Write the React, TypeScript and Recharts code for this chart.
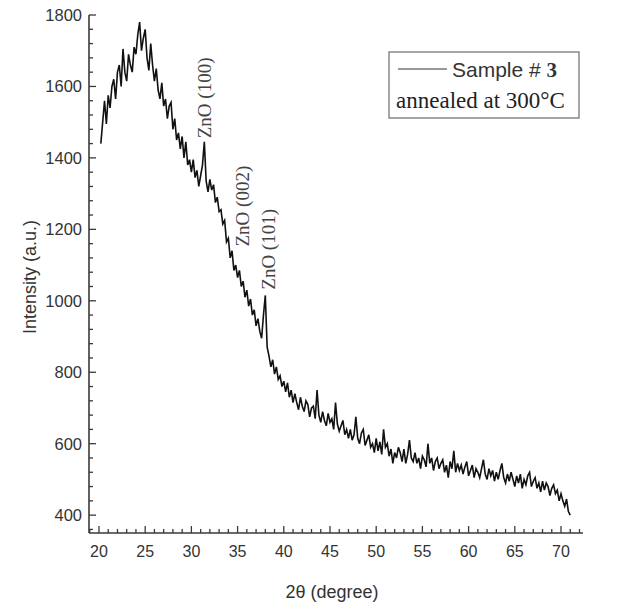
import React from "react";
import { LineChart, Line, XAxis, YAxis, ReferenceDot } from "recharts";

// 2θ sampling (degree)
const twoTheta = [
  20.2, 20.4, 20.6, 20.8, 21.0, 21.2, 21.4, 21.6, 21.8, 22.0,
  22.2, 22.4, 22.6, 22.8, 23.0, 23.2, 23.4, 23.6, 23.8, 24.0,
  24.2, 24.4, 24.6, 24.8, 25.0, 25.2, 25.4, 25.6, 25.8, 26.0,
  26.2, 26.4, 26.6, 26.8, 27.0, 27.2, 27.4, 27.6, 27.8, 28.0,
  28.2, 28.4, 28.6, 28.8, 29.0, 29.2, 29.4, 29.6, 29.8, 30.0,
  30.2, 30.4, 30.6, 30.8, 31.0, 31.2, 31.4, 31.6, 31.8, 32.0,
  32.2, 32.4, 32.6, 32.8, 33.0, 33.2, 33.4, 33.6, 33.8, 34.0,
  34.2, 34.4, 34.6, 34.8, 35.0, 35.2, 35.4, 35.6, 35.8, 36.0,
  36.2, 36.4, 36.6, 36.8, 37.0, 37.2, 37.4, 37.6, 37.8, 38.0,
  38.2, 38.4, 38.6, 38.8, 39.0, 39.2, 39.4, 39.6, 39.8, 40.0,
  40.2, 40.4, 40.6, 40.8, 41.0, 41.2, 41.4, 41.6, 41.8, 42.0,
  42.2, 42.4, 42.6, 42.8, 43.0, 43.2, 43.4, 43.6, 43.8, 44.0,
  44.2, 44.4, 44.6, 44.8, 45.0, 45.2, 45.4, 45.6, 45.8, 46.0,
  46.2, 46.4, 46.6, 46.8, 47.0, 47.2, 47.4, 47.6, 47.8, 48.0,
  48.2, 48.4, 48.6, 48.8, 49.0, 49.2, 49.4, 49.6, 49.8, 50.0,
  50.2, 50.4, 50.6, 50.8, 51.0, 51.2, 51.4, 51.6, 51.8, 52.0,
  52.2, 52.4, 52.6, 52.8, 53.0, 53.2, 53.4, 53.6, 53.8, 54.0,
  54.2, 54.4, 54.6, 54.8, 55.0, 55.2, 55.4, 55.6, 55.8, 56.0,
  56.2, 56.4, 56.6, 56.8, 57.0, 57.2, 57.4, 57.6, 57.8, 58.0,
  58.2, 58.4, 58.6, 58.8, 59.0, 59.2, 59.4, 59.6, 59.8, 60.0,
  60.2, 60.4, 60.6, 60.8, 61.0, 61.2, 61.4, 61.6, 61.8, 62.0,
  62.2, 62.4, 62.6, 62.8, 63.0, 63.2, 63.4, 63.6, 63.8, 64.0,
  64.2, 64.4, 64.6, 64.8, 65.0, 65.2, 65.4, 65.6, 65.8, 66.0,
  66.2, 66.4, 66.6, 66.8, 67.0, 67.2, 67.4, 67.6, 67.8, 68.0,
  68.2, 68.4, 68.6, 68.8, 69.0, 69.2, 69.4, 69.6, 69.8, 70.0,
  70.2, 70.4, 70.6, 70.8, 71.0,
];

// Intensity (a.u.)
const intensity = [
  1440, 1500, 1560, 1495, 1575, 1540, 1600, 1620, 1565, 1640,
  1660, 1600, 1705, 1640, 1615, 1690, 1660, 1640, 1710, 1690,
  1745, 1780, 1700, 1735, 1760, 1680, 1645, 1720, 1660, 1615,
  1650, 1590, 1565, 1610, 1545, 1565, 1510, 1545, 1555, 1480,
  1510, 1450, 1470, 1425, 1460, 1400, 1445, 1380, 1395, 1360,
  1395, 1345, 1365, 1320, 1350, 1380, 1445, 1335, 1305, 1340,
  1310, 1325, 1275, 1290, 1250, 1255, 1215, 1225, 1165, 1175,
  1120, 1140, 1085, 1100, 1065, 1085, 1040, 1055, 1010, 1030,
  985, 1005, 960, 975, 930, 950, 915, 895, 960, 1015,
  870, 845, 815, 835, 795, 815, 780, 790, 760, 775,
  745, 770, 730, 750, 715, 740, 715, 695, 730, 705,
  690, 720, 710, 675, 700, 705, 670, 750, 680, 660,
  690, 665, 650, 685, 660, 670, 640, 715, 655, 635,
  650, 665, 625, 640, 615, 640, 610, 625, 675, 615,
  600, 630, 640, 595, 610, 625, 590, 600, 575, 615,
  580, 605, 570, 640, 590, 600, 565, 585, 545, 575,
  560, 590, 575, 550, 585, 545, 570, 610, 560, 550,
  575, 545, 560, 530, 565, 555, 535, 600, 545, 560,
  525, 550, 560, 530, 545, 555, 520, 540, 505, 550,
  530, 580, 520, 545, 525, 540, 515, 535, 550, 510,
  525, 540, 505, 530, 520, 505, 530, 555, 515, 500,
  530, 510, 525, 495, 520, 500, 525, 545, 505, 490,
  515, 495, 520, 500, 480, 510, 490, 515, 475, 500,
  485, 510, 520, 480, 495, 505, 475, 490, 465, 495,
  470, 490, 480, 455, 475, 485, 460, 470, 440, 460,
  440, 425, 445, 410, 400,
];

const xTicks = [
  19, 20, 21, 22, 23, 24, 25, 26, 27, 28, 29, 30, 31, 32, 33, 34, 35, 36, 37, 38, 39, 40,
  41, 42, 43, 44, 45, 46, 47, 48, 49, 50, 51, 52, 53, 54, 55, 56, 57, 58, 59, 60,
  61, 62, 63, 64, 65, 66, 67, 68, 69, 70, 71, 72,
];
const yTicks = [
  360, 400, 440, 480, 520, 560, 600, 640, 680, 720, 760, 800, 840, 880, 920, 960, 1000,
  1040, 1080, 1120, 1160, 1200, 1240, 1280, 1320, 1360, 1400, 1440, 1480, 1520, 1560,
  1600, 1640, 1680, 1720, 1760, 1800,
];

const peakLabels = ["ZnO (100)", "ZnO (002)", "ZnO (101)"];
const peakX = [31.47, 35.58, 38.4];
const peakY = [1455, 1152, 1031];

const data = twoTheta.map((t, i) => ({ t, intensity: intensity[i] }));

const X_DOMAIN: [number, number] = [18.92, 72.38];
const Y_DOMAIN: [number, number] = [350, 1800];

const AXIS = "#3a3a3a";
const SANS = "'Liberation Sans', Arial, sans-serif";
const SERIF = "'Liberation Serif', 'Times New Roman', serif";

const XTickBottom = (props: any) => {
  const { x, y, payload } = props;
  const v = payload.value;
  const major = v % 5 === 0;
  return (
    <g>
      <line x1={x} x2={x} y1={y} y2={y - (major ? 7 : 4)} stroke={AXIS} strokeWidth={1.3} />
      {major && (
        <text x={x} y={y + 24} textAnchor="middle" fontSize={16} fill="#333" fontFamily={SANS}>
          {v}
        </text>
      )}
    </g>
  );
};

const XTickTop = (props: any) => {
  const { x, y, payload } = props;
  const major = payload.value % 5 === 0;
  return <line x1={x} x2={x} y1={y} y2={y + (major ? 7 : 4)} stroke={AXIS} strokeWidth={1.3} />;
};

const YTickLeft = (props: any) => {
  const { x, y, payload } = props;
  const v = payload.value;
  const major = v % 200 === 0;
  return (
    <g>
      <line x1={x} x2={x + (major ? 7 : 4)} y1={y} y2={y} stroke={AXIS} strokeWidth={1.3} />
      {major && (
        <text x={x - 7} y={y + 6} textAnchor="end" fontSize={16.5} fill="#333" fontFamily={SANS}>
          {v}
        </text>
      )}
    </g>
  );
};

const PeakLabel = (label: string) => (props: any) => {
  const { cx, cy } = props;
  const bx = cx + 6;
  return (
    <text
      x={bx}
      y={cy}
      transform={`rotate(-90 ${bx} ${cy})`}
      textAnchor="start"
      fontSize={19}
      fill="#444"
      fontFamily={SERIF}
    >
      {label}
    </text>
  );
};

export default function App() {
  return (
    <div style={{ position: "absolute", left: 0, top: 0, width: 630, height: 612, background: "#fff" }}>
      <LineChart
        width={630}
        height={612}
        data={data}
        margin={{ top: 15, right: 47, bottom: 29, left: 0 }}
      >
        <XAxis
          dataKey="t"
          type="number"
          domain={X_DOMAIN}
          allowDataOverflow
          ticks={xTicks}
          interval={0}
          tickSize={0}
          tickMargin={0}
          height={50}
          tick={<XTickBottom />}
          axisLine={{ stroke: AXIS, strokeWidth: 1.6 }}
          tickLine={false}
        />
        <XAxis
          xAxisId="top"
          orientation="top"
          dataKey="t"
          type="number"
          domain={X_DOMAIN}
          allowDataOverflow
          ticks={xTicks}
          interval={0}
          tickSize={0}
          tickMargin={0}
          height={0}
          tick={<XTickTop />}
          axisLine={{ stroke: AXIS, strokeWidth: 1.6 }}
          tickLine={false}
        />
        <YAxis
          type="number"
          domain={Y_DOMAIN}
          allowDataOverflow
          ticks={yTicks}
          interval={0}
          tickSize={0}
          tickMargin={0}
          width={89}
          tick={<YTickLeft />}
          axisLine={{ stroke: AXIS, strokeWidth: 1.6 }}
          tickLine={false}
        />
        <YAxis
          yAxisId="right"
          orientation="right"
          type="number"
          domain={Y_DOMAIN}
          width={0}
          tick={false}
          tickLine={false}
          axisLine={{ stroke: AXIS, strokeWidth: 1.6 }}
        />
        <Line
          type="linear"
          dataKey="intensity"
          stroke="#111"
          strokeWidth={1.6}
          dot={false}
          isAnimationActive={false}
        />
        {peakLabels.map((lab, i) => (
          <ReferenceDot
            key={lab}
            x={peakX[i]}
            y={peakY[i]}
            r={0}
            ifOverflow="visible"
            shape={PeakLabel(lab)}
          />
        ))}
      </LineChart>
      <svg
        width={630}
        height={612}
        style={{ position: "absolute", left: 0, top: 0, pointerEvents: "none" }}
      >
        <text
          x={36}
          y={277}
          transform="rotate(-90 36 277)"
          textAnchor="middle"
          fontSize={18}
          fill="#333"
          fontFamily={SANS}
        >
          Intensity (a.u.)
        </text>
        <text x={332} y={598} textAnchor="middle" fontSize={18} fill="#333" fontFamily={SANS}>
          2θ (degree)
        </text>
        <rect x={389} y={52} width={190} height={66} fill="#fff" stroke="#777" strokeWidth={1.3} />
        <line x1={398} x2={447} y1={69} y2={69} stroke="#333" strokeWidth={1} />
        <text x={452} y={77} fontSize={21} fill="#333" fontFamily={SANS}>
          Sample #{" "}
          <tspan fontFamily={SERIF} fontWeight="bold">
            3
          </tspan>
        </text>
        <text x={396} y={108} fontSize={23} fill="#222" fontFamily={SERIF}>
          annealed at 300°C
        </text>
      </svg>
    </div>
  );
}
